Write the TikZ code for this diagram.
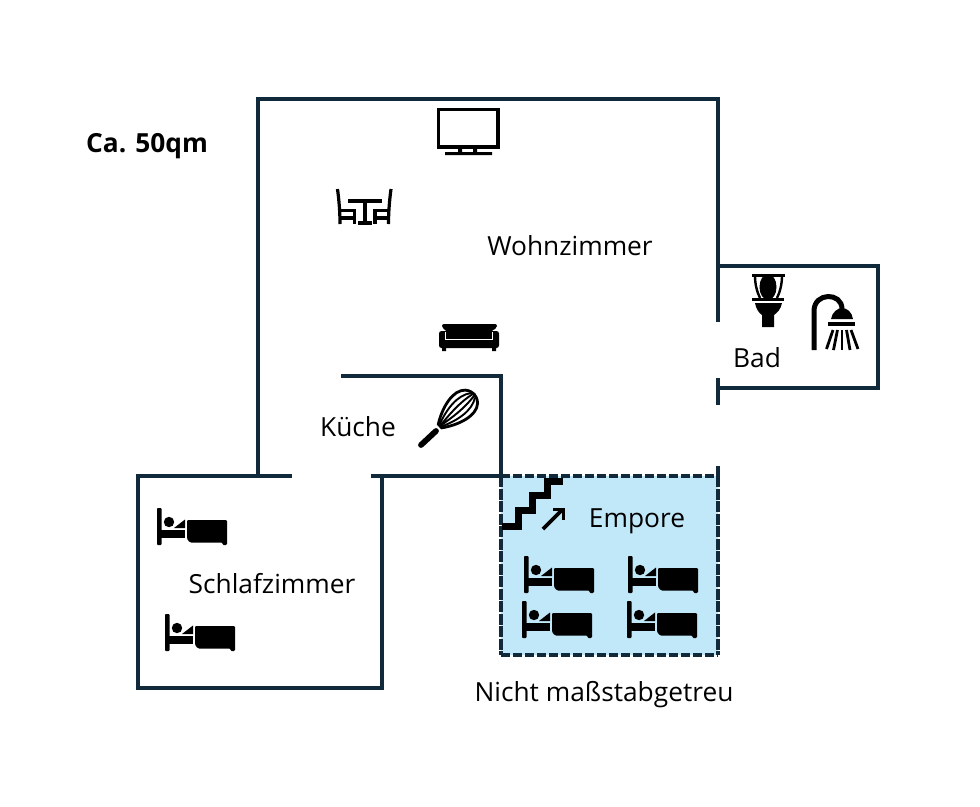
\documentclass[tikz,border=0pt]{standalone}
\usepackage{fontspec}
\setmainfont{Open Sans}
\definecolor{wall}{HTML}{10293B}
\definecolor{empore}{HTML}{C1E8F8}
\tikzset{
  x=1pt,y=-1pt,
  wallline/.style={draw=wall,line width=3.6pt,line cap=butt,line join=miter},
  dashline/.style={draw=wall,line width=3.2pt,dash pattern=on 9pt off 3pt},
  sideline/.style={draw=wall,line width=3.2pt,dash pattern=on 11pt off 1.5pt},
  label/.style={font=\fontsize{26.3}{30}\selectfont,text=black,inner sep=0pt,anchor=center},
  icon/.style={draw=black,line cap=butt},
  bedicon/.pic={
    \fill[black,rounded corners=0.8pt] (0,0) rectangle (4.5,37);
    \fill[black] (4,22) rectangle (28,30);
    \fill[black] (12,14) circle (5.2);
    \fill[black] (17,20) -- (28,11.5) -- (28,20) -- cycle;
    \fill[black,rounded corners=1.2pt] (30,12) -- (70,12) -- (70,37) -- (65.5,37) -- (65.5,34.5) -- (33,34.5) -- (30,31) -- cycle;
  }
}
\begin{document}
\begin{tikzpicture}
\useasboundingbox (0,0) rectangle (980,806);
\fill[white] (0,0) rectangle (980,806);
% Empore
\fill[empore] (501,476) rectangle (718,655);
\draw[dashline] (501,476) -- (718,476);
\draw[dashline] (501,655) -- (718,655);
\draw[sideline] (501,476) -- (501,655);
\draw[sideline] (718,476) -- (718,655);
% Walls
\draw[wallline] (258,476) -- (258,99) -- (718,99) -- (718,322);
\draw[wallline] (718,378) -- (718,405);
\draw[wallline] (718,466) -- (718,480);
\draw[wallline] (718,266) -- (878,266) -- (878,388) -- (718,388);
\draw[wallline] (341,376) -- (501,376) -- (501,480);
\draw[wallline] (371,476) -- (501,476);
\draw[wallline] (292,476) -- (138,476) -- (138,688) -- (382,688) -- (382,476);
% Labels
\node[label,font=\fontsize{26.3}{30}\selectfont\bfseries] (area) at (147,146) {Ca. 50qm};
\node[label] (wohn) at (570,246) {Wohnzimmer};
\node[label] (kueche) at (358,427) {Küche};
\node[label] (bad) at (757,358) {Bad};
\node[label] (emp) at (637,521) {Empore};
\node[label] (schlaf) at (272,584) {Schlafzimmer};
\node[label] (note) at (604,695) {Nicht maßstabgetreu};
% TV
\draw[icon,line width=3.4pt] (438.7,109.7) rectangle (498,147);
\fill[black] (458,148) rectangle (462,153) (473,148) rectangle (477,153) (445,152) rectangle (492,155);
% Table and chairs
\begin{scope}[icon,line width=3.2pt]
\draw (337.5,189) .. controls (339,200) and (340,212) .. (340,224);
\draw (391,189) .. controls (389.5,200) and (388.5,212) .. (388.5,224);
\draw (348,201) -- (382,201);
\draw (365,201) -- (365,223);
\draw (358,223) -- (372,223);
\draw (340,210.5) -- (356,210.5) (354.5,210.5) -- (354.5,224) (340,218) -- (354.5,218);
\draw (388.5,210.5) -- (373,210.5) (375,210.5) -- (375,224) (388.5,218) -- (375,218);
\end{scope}
% Sofa
\fill[black,rounded corners=2.5pt] (439,331) rectangle (499,348);
\fill[black] (442,347) rectangle (446,351) (492,347) rectangle (496,351);
\draw[white,line width=1.4pt] (445.5,332) -- (445.5,339.5) -- (492.5,339.5) -- (492.5,332);
\fill[black,rounded corners=2pt] (442,324) -- (497,324) -- (497,328) -- (491,331) -- (491,338) -- (447,338) -- (447,331) -- (442,328) -- cycle;
% Whisk
\draw[black,line width=5.8pt,line cap=round] (421,445) -- (436,431);
\begin{scope}[shift={(440,426)},rotate=43,icon,line width=1.9pt]
\draw[line width=2.8pt,fill=white] (0,-2.5) .. controls (14,-12) and (34,-18) .. (43,-9) .. controls (48,-3) and (48,3) .. (43,9) .. controls (34,18) and (14,12) .. (0,2.5) -- cycle;
\draw (0,-1) .. controls (16,-8) and (34,-11) .. (45,-3);
\draw (0,1) .. controls (16,8) and (34,11) .. (45,3);
\draw (0,0) .. controls (14,-2) and (30,-4) .. (46,-1);
\draw (0,0) .. controls (14,2) and (30,4) .. (46,1);
\end{scope}
% Toilet
\fill[black] (768,287) ellipse (8.5 and 13);
\fill[black] (752,274) rectangle (785,277);
\draw[icon,line width=2.4pt] (755,276) .. controls (755,284) and (757,292) .. (760,298);
\draw[icon,line width=2.4pt] (782,276) .. controls (782,284) and (780,292) .. (777,298);
\fill[black] (752,298) rectangle (784,300.5);
\fill[black] (755,303) -- (782,303) .. controls (781,309) and (777,313) .. (774,315) -- (774,327) -- (762,327) -- (762,315) .. controls (759,313) and (756,309) .. (755,303) -- cycle;
% Shower
\draw[icon,line width=5pt] (814,350) -- (814,311) .. controls (814,292) and (842,292) .. (842,309);
\fill[black] (831,319) .. controls (832,312) and (838,308) .. (842,308) .. controls (847,308) and (852,312) .. (853,319) -- cycle;
\fill[black] (828,322) rectangle (855,326);
\begin{scope}[icon,line width=2.8pt]
\draw (833,330) -- (826.5,349);
\draw (837.5,330) -- (833.5,350);
\draw (842,330) -- (842,350);
\draw (846.5,330) -- (850,350);
\draw (851,330) -- (858,349);
\end{scope}
% Stairs
\draw[icon,line width=7pt,line join=miter] (502,526) -- (518,526) -- (518,510) -- (532,510) -- (532,495) -- (547,495) -- (547,481) -- (563,481);
\draw[icon,line width=3.6pt] (543,529) -- (562,510);
\draw[icon,line width=3.6pt] (553,509.5) -- (563.5,509.5) -- (563.5,520);
% Beds
\pic at (157,508) {bedicon};
\pic at (165,614) {bedicon};
\pic at (524,556) {bedicon};
\pic at (628,556) {bedicon};
\pic at (522,601) {bedicon};
\pic at (627,601) {bedicon};
\end{tikzpicture}
\end{document}
